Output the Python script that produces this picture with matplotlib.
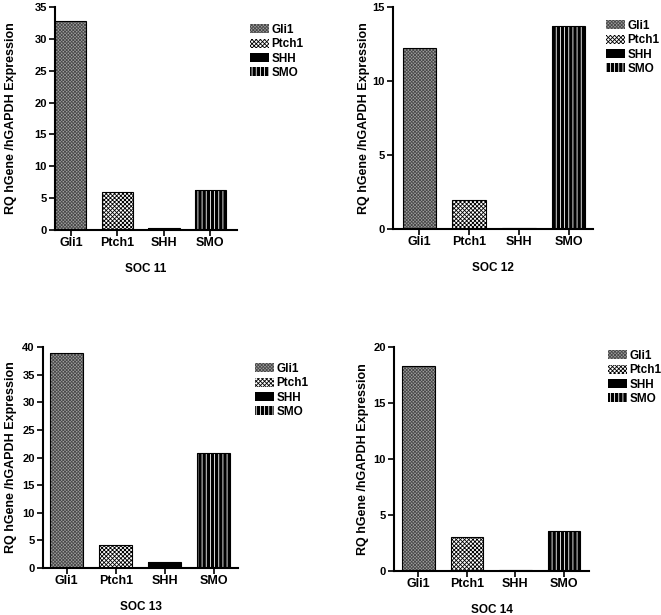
import matplotlib.pyplot as plt
import numpy as np

plt.rcParams['font.family'] = ['Liberation Sans', 'DejaVu Sans']
plt.rcParams['font.weight'] = 'bold'
plt.rcParams['hatch.linewidth'] = 0.6

# ============= DATA =============
genes = ['Gli1', 'Ptch1', 'SHH', 'SMO']
samples = ['SOC 11', 'SOC 12', 'SOC 13', 'SOC 14']
soc11 = [32.8, 6.0, 0.3, 6.3]
soc12 = [12.25, 1.95, 0.05, 13.7]
soc13 = [39.0, 4.2, 1.1, 20.8]
soc14 = [18.3, 3.0, 0.05, 3.6]
values = [soc11, soc12, soc13, soc14]
ymax = [35, 15, 40, 20]

# face colour, hatch, hatch colour per gene
styles = [('#a0a0a0', 'x' * 10, '#4a4a4a'),
          ('white', 'x' * 8, 'black'),
          ('black', '', 'black'),
          ('black', '|' * 4, 'white')]

W, H = 661, 615
# axes boxes in pixels: left, top, right, bottom
boxes = [(55, 7, 237, 230), (393, 7, 593, 229),
         (43, 347, 238, 568), (394, 347, 589, 571)]
xlims = [(-0.34, 3.57), (-0.53, 3.49), (-0.48, 3.49), (-0.5, 3.52)]
legend_pos = [(250, 24), (606, 20), (255, 363), (608, 350)]
ylabelpad = [12, 2, 4, 3]

fig = plt.figure(figsize=(W / 100, H / 100), dpi=100)

for i in range(4):
    l, t, r, b = boxes[i]
    ax = fig.add_axes([l / W, 1 - b / H, (r - l) / W, (b - t) / H])
    x = np.arange(len(genes))
    handles = []
    for j, g in enumerate(genes):
        fc, hatch, hc = styles[j]
        bar = ax.bar(x[j], values[i][j], width=0.67, color=fc, hatch=hatch,
                     edgecolor=hc, linewidth=0, label=g)
        ax.bar(x[j], values[i][j], width=0.67, fill=False,
               edgecolor='black', linewidth=0.8)
        handles.append(bar)
    ax.set_xlim(*xlims[i])
    ax.set_ylim(0, ymax[i])
    ax.set_yticks(np.arange(0, ymax[i] + 1, 5))
    ax.set_xticks(x)
    ax.set_xticklabels(genes, fontsize=9, fontweight='bold')
    ax.tick_params(axis='y', labelsize=8, width=1.2, length=4, pad=2)
    ax.tick_params(axis='x', width=1.2, length=4, pad=1)
    for s in ['top', 'right']:
        ax.spines[s].set_visible(False)
    for s in ['left', 'bottom']:
        ax.spines[s].set_linewidth(1.5)
    ax.set_ylabel('RQ hGene /hGAPDH Expression', fontsize=9,
                  fontweight='bold', labelpad=ylabelpad[i])
    ax.set_xlabel(samples[i], fontsize=8.5, fontweight='bold', labelpad=10)
    lx, ly = legend_pos[i]
    fig.legend(handles=handles, labels=genes, loc='upper left',
               bbox_to_anchor=(lx / W, 1 - ly / H), frameon=False,
               fontsize=8.5, handlelength=1.6, handleheight=0.8,
               handletextpad=0.2, labelspacing=0.2,
               borderaxespad=0, borderpad=0)

fig.savefig('out.png', dpi=100)
